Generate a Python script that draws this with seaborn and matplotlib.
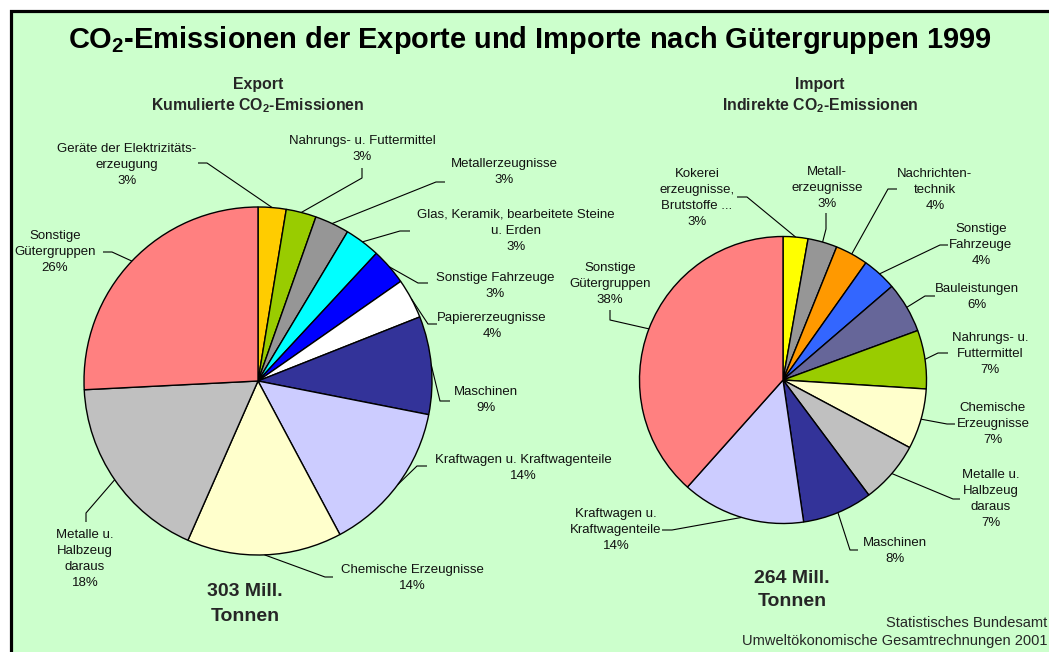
import numpy as np
import matplotlib
matplotlib.use("Agg")
import matplotlib.pyplot as plt
import matplotlib.patches as mpatches
import seaborn as sns

# ---------------- data ----------------
title = "CO$_\\mathbf{2}$-Emissionen der Exporte und Importe nach Gütergruppen 1999"
exp_title = "Export\nKumulierte CO$_\\mathbf{2}$-Emissionen"
imp_title = "Import\nIndirekte CO$_\\mathbf{2}$-Emissionen"

exp_categories = [
    "Geräte der Elektrizitäts-\nerzeugung",
    "Nahrungs- u. Futtermittel",
    "Metallerzeugnisse",
    "Glas, Keramik, bearbeitete Steine\nu. Erden",
    "Sonstige Fahrzeuge",
    "Papiererzeugnisse",
    "Maschinen",
    "Kraftwagen u. Kraftwagenteile",
    "Chemische Erzeugnisse",
    "Metalle u.\nHalbzeug\ndaraus",
    "Sonstige\nGütergruppen",
]
exp_values = [2.6, 2.8, 3.2, 3.3, 3.4, 3.7, 9.1, 14.1, 14.4, 17.6, 25.8]
exp_colors = ["#FFCC00", "#99CC00", "#969696", "#00FFFF", "#0000FF", "#FFFFFF",
              "#333399", "#CCCCFF", "#FFFFCC", "#C0C0C0", "#FF8080"]
exp_total = "303 Mill.\nTonnen"

imp_categories = [
    "Kokerei\nerzeugnisse,\nBrutstoffe ...",
    "Metall-\nerzeugnisse",
    "Nachrichten-\ntechnik",
    "Sonstige\nFahrzeuge",
    "Bauleistungen",
    "Nahrungs- u.\nFuttermittel",
    "Chemische\nErzeugnisse",
    "Metalle u.\nHalbzeug\ndaraus",
    "Maschinen",
    "Kraftwagen u.\nKraftwagenteile",
    "Sonstige\nGütergruppen",
]
imp_values = [2.8, 3.3, 3.7, 3.9, 5.7, 6.6, 6.8, 7.0, 7.9, 13.9, 38.4]
imp_colors = ["#FFFF00", "#969696", "#FF9900", "#3366FF", "#666699", "#99CC00",
              "#FFFFCC", "#C0C0C0", "#333399", "#CCCCFF", "#FF8080"]
imp_total = "264 Mill.\nTonnen"

source = "Statistisches Bundesamt\nUmweltökonomische Gesamtrechnungen 2001"

# ---------------- layout (pixel coordinates, y downward) ----------------
W, H = 1049, 652
exp_center, exp_radius = (258, 381), 174
imp_center, imp_radius = (783, 380), 143.5

# (text center, elbow point, end point near text)
exp_label_layout = [
    ((127, 165), (207, 163), (198, 163)),
    ((362, 149), (362, 178), (362, 168)),
    ((504, 172), (436, 182), (445, 182)),
    ((516, 231), (400, 231), (410, 231)),
    ((495, 286), (418, 283), (428, 283)),
    ((492, 326), (428, 324), (437, 324)),
    ((486, 400), (440, 401), (450, 401)),
    ((523, 468), (417, 466), (427, 466)),
    ((412, 578), (325, 577), (333, 577)),
    ((85, 559), (86, 513), (86, 522)),
    ((55, 252), (112, 252), (103, 252)),
]
imp_label_layout = [
    ((697, 198), (747, 197), (737, 197)),
    ((827, 188), (826, 229), (826, 213)),
    ((935, 190), (888, 189), (897, 189)),
    ((981, 245), (940, 245), (948, 245)),
    ((977, 297), (925, 296), (935, 296)),
    ((990, 354), (938, 353), (948, 353)),
    ((993, 424), (947, 424), (955, 424)),
    ((991, 499), (953, 499), (960, 499)),
    ((895, 551), (850, 550), (858, 550)),
    ((616, 530), (672, 530), (662, 530)),
    ((610, 284), (610, 320), (610, 310)),
]

# ---------------- style ----------------
sns.set_theme(style="white")
plt.rcParams["font.family"] = ["Liberation Sans", "DejaVu Sans"]
plt.rcParams["mathtext.fontset"] = "custom"
plt.rcParams["mathtext.rm"] = "Liberation Sans"
plt.rcParams["mathtext.bf"] = "Liberation Sans:bold"
plt.rcParams["mathtext.it"] = "Liberation Sans:italic"

BG = "#CCFFCC"
fig = plt.figure(figsize=(W / 100, H / 100), dpi=100)
fig.patch.set_facecolor("white")
ax = fig.add_axes([0, 0, 1, 1])


def P(x, y):
    return (x, H - y)


# background frame
ax.add_patch(mpatches.Rectangle(P(10.5, H + 20), W + 40, H + 20 - 10.5,
                                facecolor=BG, edgecolor="black", linewidth=2.3,
                                zorder=0))


def draw_pie(values, colors, categories, center, radius, layout):
    wedges, _ = ax.pie(values, colors=colors, startangle=90, counterclock=False,
                       center=P(*center), radius=radius, frame=True,
                       wedgeprops=dict(edgecolor="black", linewidth=1.0))
    cx, cy = P(*center)
    for w, v, cat, (tpos, elbow, end) in zip(wedges, values, categories, layout):
        mid = np.deg2rad((w.theta1 + w.theta2) / 2)
        rim = (cx + radius * np.cos(mid), cy + radius * np.sin(mid))
        ex, ey = P(*elbow)
        nx, ny = P(*end)
        ax.plot([rim[0], ex, nx], [rim[1], ey, ny], color="black", lw=0.8,
                zorder=3, solid_capstyle="butt")
        ax.text(*P(*tpos), f"{cat}\n{round(v)}%", ha="center", va="center",
                fontsize=9.5, color="#111111", linespacing=1.45, zorder=4)


draw_pie(exp_values, exp_colors, exp_categories, exp_center, exp_radius, exp_label_layout)
draw_pie(imp_values, imp_colors, imp_categories, imp_center, imp_radius, imp_label_layout)

ax.set_xlim(0, W)
ax.set_ylim(0, H)
ax.set_aspect("auto")
ax.axis("off")

ax.text(*P(530, 40), title, ha="center", va="center", fontsize=20.9,
        fontweight="bold", color="black")
ax.text(*P(258, 96), exp_title, ha="center", va="center", fontsize=11.4,
        fontweight="bold", linespacing=1.3)
ax.text(*P(820, 96), imp_title, ha="center", va="center", fontsize=11.4,
        fontweight="bold", linespacing=1.3)
ax.text(*P(245, 604), exp_total, ha="center", va="center", fontsize=14,
        fontweight="bold", linespacing=1.6)
ax.text(*P(792, 590), imp_total, ha="center", va="center", fontsize=14,
        fontweight="bold", linespacing=1.5)
ax.text(*P(1047, 632), source, ha="right", va="center", fontsize=10.5,
        linespacing=1.4, multialignment="right")

fig.savefig("out.png", dpi=100, facecolor=fig.get_facecolor())
